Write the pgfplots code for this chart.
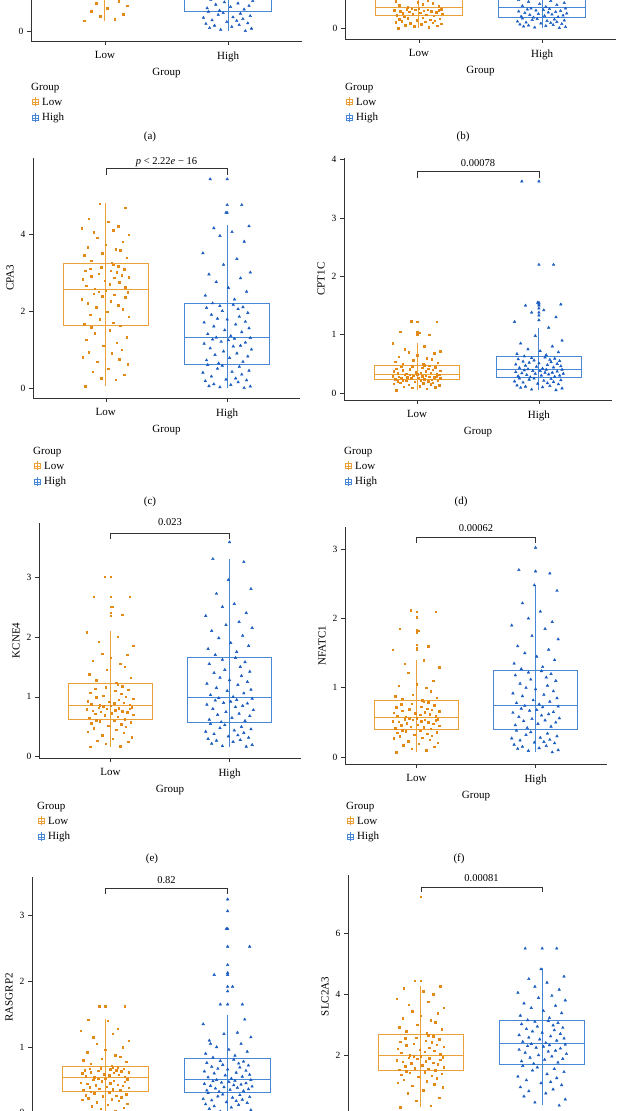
\documentclass[border=0pt]{standalone}
\usepackage{fontspec}
\setmainfont{Liberation Serif}
\usepackage{pgfplots}
\usepackage{pgfplotstable}
\usepgfplotslibrary{statistics}
\pgfplotsset{compat=1.18}

\definecolor{lowc}{RGB}{226,137,24}
\definecolor{highc}{RGB}{25,92,192}
\definecolor{boxlowc}{RGB}{236,160,56}
\definecolor{boxhighc}{RGB}{72,134,214}

\newcommand{\tf}{\fontsize{11}{13}\selectfont}
\newcommand{\nf}{\fontsize{9.5}{11}\selectfont}
\newcommand{\pf}{\fontsize{10.5}{12}\selectfont}

\pgfplotsset{
  /pgf/number format/assume math mode=true,
  bp/.style={
    scale only axis, anchor=south west, clip=false,
    axis x line*=bottom, axis y line*=left,
    axis line style={draw=black!80, line width=0.7pt, -},
    xmin=0.4, xmax=2.6, xtick={1,2}, xticklabels={Low,High},
    tick align=outside, major tick length=4pt,
    tick style={draw=black!80, line width=0.6pt},
    xticklabel style={font=\tf, yshift=-3pt},
    yticklabel style={font=\nf},
    xlabel={Group},
    label style={font=\tf},
    boxplot/draw direction=y, boxplot/box extend=0.7, boxplot/whisker extend=0,
  },
  lowbox/.style={draw=boxlowc, line width=1pt, solid},
  highbox/.style={draw=boxhighc, line width=1pt, solid},
  lowpts/.style={only marks, mark=square*, mark size=0.75pt, color=lowc},
  highpts/.style={only marks, mark=triangle*, mark size=1.5pt, color=highc},
}

% jittered points: x positions (xl, xh) and one value column per panel and group
\pgfplotstableread{
xl xh al ah bl bh cl ch dl dh el eh fl fh gl gh hl hh
0.83 2.14 0.17 0.00 0.00 0.00 0.05 0.00 0.05 0.05 0.17 0.17 0.07 0.07 0.00 0.00 0.30 0.35
1.08 1.94 0.20 0.02 0.02 0.01 0.22 0.02 0.07 0.06 0.18 0.18 0.10 0.09 0.03 0.02 0.35 0.45
0.96 2.19 0.25 0.04 0.04 0.02 0.25 0.04 0.09 0.08 0.22 0.20 0.12 0.10 0.06 0.04 0.50 0.55
1.15 1.85 0.28 0.05 0.05 0.03 0.35 0.05 0.10 0.09 0.25 0.22 0.15 0.12 0.08 0.06 0.60 0.65
0.89 2.03 0.33 0.07 0.06 0.04 0.42 0.08 0.11 0.10 0.27 0.25 0.17 0.13 0.10 0.08 0.75 0.75
1.02 1.89 0.38 0.09 0.08 0.05 0.50 0.10 0.12 0.11 0.30 0.27 0.19 0.15 0.12 0.10 0.85 0.82
1.18 2.09 0.42 0.10 0.09 0.06 0.62 0.15 0.13 0.12 0.33 0.28 0.21 0.16 0.14 0.12 0.95 0.88
0.93 1.82 0.46 0.12 0.10 0.07 0.68 0.18 0.14 0.13 0.36 0.30 0.23 0.18 0.16 0.13 1.00 0.95
1.11 2.16 0.50 0.13 0.11 0.08 0.75 0.20 0.15 0.15 0.40 0.32 0.25 0.20 0.18 0.15 1.05 1.02
0.81 1.99 0.55 0.15 0.12 0.09 0.80 0.22 0.16 0.16 0.42 0.34 0.27 0.21 0.20 0.16 1.10 1.08
1.05 2.07 0.60 0.17 0.13 0.10 0.90 0.25 0.17 0.17 0.45 0.36 0.28 0.22 0.21 0.18 1.15 1.12
0.86 1.87 0.64 0.18 0.14 0.11 0.93 0.30 0.18 0.18 0.48 0.38 0.30 0.24 0.22 0.19 1.20 1.18
1.13 2.12 0.68 0.20 0.15 0.12 1.00 0.35 0.18 0.19 0.50 0.40 0.31 0.25 0.24 0.20 1.25 1.25
0.98 1.80 0.72 0.22 0.16 0.13 1.10 0.40 0.19 0.20 0.52 0.42 0.32 0.27 0.25 0.21 1.30 1.30
1.09 2.04 0.75 0.23 0.17 0.14 1.18 0.42 0.20 0.21 0.54 0.44 0.34 0.28 0.26 0.23 1.33 1.38
0.84 2.18 0.78 0.25 0.18 0.15 1.25 0.45 0.20 0.22 0.56 0.46 0.35 0.30 0.27 0.24 1.36 1.45
1.17 1.92 0.82 0.27 0.19 0.16 1.32 0.50 0.21 0.23 0.58 0.48 0.36 0.32 0.28 0.25 1.40 1.50
0.91 2.10 0.84 0.29 0.20 0.17 1.42 0.55 0.21 0.24 0.59 0.50 0.37 0.34 0.30 0.27 1.42 1.55
1.03 1.96 0.86 0.30 0.21 0.18 1.50 0.58 0.22 0.25 0.60 0.53 0.38 0.36 0.31 0.28 1.45 1.60
0.88 1.84 0.88 0.32 0.23 0.19 1.58 0.60 0.22 0.25 0.61 0.55 0.39 0.38 0.32 0.30 1.47 1.65
1.12 1.93 0.92 0.34 0.25 0.21 1.62 0.64 0.23 0.27 0.63 0.58 0.41 0.42 0.34 0.32 1.50 1.72
0.82 2.13 0.95 0.36 0.26 0.22 1.65 0.68 0.24 0.28 0.65 0.60 0.42 0.44 0.35 0.33 1.53 1.76
1.06 1.83 0.98 0.38 0.27 0.23 1.70 0.72 0.24 0.29 0.67 0.62 0.43 0.46 0.36 0.34 1.56 1.80
0.95 2.02 1.02 0.40 0.28 0.24 1.78 0.78 0.25 0.30 0.69 0.65 0.44 0.48 0.37 0.35 1.58 1.85
1.19 2.17 1.05 0.42 0.29 0.25 1.85 0.82 0.25 0.30 0.70 0.68 0.45 0.50 0.38 0.36 1.61 1.88
0.87 1.90 1.08 0.44 0.30 0.26 1.90 0.86 0.26 0.31 0.72 0.70 0.46 0.52 0.39 0.37 1.64 1.92
1.01 2.08 1.12 0.46 0.31 0.27 1.98 0.90 0.26 0.32 0.73 0.72 0.47 0.53 0.40 0.38 1.67 1.96
1.14 1.97 1.15 0.48 0.32 0.28 2.05 0.95 0.27 0.33 0.74 0.75 0.48 0.55 0.41 0.39 1.70 2.00
0.92 2.20 1.18 0.50 0.33 0.29 2.10 1.00 0.27 0.33 0.75 0.78 0.49 0.56 0.42 0.40 1.73 2.04
1.10 1.86 1.20 0.52 0.34 0.30 2.15 1.03 0.28 0.34 0.76 0.80 0.50 0.58 0.43 0.41 1.76 2.08
0.85 2.05 1.23 0.54 0.34 0.31 2.20 1.08 0.28 0.35 0.77 0.83 0.51 0.60 0.44 0.42 1.79 2.12
1.04 2.11 1.25 0.56 0.35 0.32 2.25 1.10 0.29 0.35 0.78 0.85 0.52 0.62 0.45 0.43 1.81 2.15
0.80 1.81 1.28 0.58 0.36 0.33 2.30 1.15 0.29 0.36 0.79 0.87 0.52 0.64 0.46 0.44 1.84 2.18
1.16 2.15 1.30 0.60 0.36 0.34 2.35 1.18 0.29 0.37 0.80 0.89 0.53 0.65 0.47 0.45 1.86 2.22
0.97 1.95 1.32 0.62 0.37 0.35 2.38 1.20 0.30 0.38 0.80 0.90 0.54 0.67 0.48 0.46 1.88 2.25
1.07 2.01 1.34 0.64 0.37 0.36 2.42 1.24 0.30 0.38 0.81 0.92 0.54 0.68 0.49 0.47 1.90 2.28
0.90 1.88 1.35 0.66 0.38 0.37 2.45 1.26 0.31 0.39 0.82 0.94 0.55 0.70 0.50 0.48 1.92 2.30
1.18 2.06 1.36 0.67 0.38 0.38 2.48 1.28 0.31 0.40 0.83 0.95 0.55 0.72 0.51 0.49 1.94 2.33
0.94 2.19 1.38 0.68 0.39 0.39 2.50 1.30 0.31 0.40 0.84 0.97 0.56 0.73 0.52 0.50 1.96 2.35
1.00 1.91 1.39 0.69 0.39 0.39 2.53 1.31 0.32 0.41 0.85 0.98 0.56 0.74 0.52 0.50 1.97 2.37
0.91 2.03 1.42 0.72 0.42 0.42 2.58 1.35 0.33 0.42 0.86 1.00 0.58 0.76 0.54 0.52 2.00 2.40
1.16 1.84 1.45 0.75 0.44 0.44 2.62 1.40 0.33 0.43 0.87 1.03 0.59 0.78 0.55 0.54 2.04 2.44
0.84 2.12 1.48 0.78 0.46 0.46 2.66 1.45 0.34 0.44 0.88 1.06 0.60 0.80 0.56 0.55 2.08 2.48
1.03 1.98 1.52 0.80 0.48 0.48 2.70 1.50 0.35 0.45 0.89 1.10 0.61 0.82 0.57 0.57 2.12 2.52
1.11 2.18 1.55 0.83 0.50 0.50 2.74 1.55 0.35 0.46 0.90 1.12 0.62 0.85 0.58 0.58 2.15 2.55
0.99 1.89 1.58 0.86 0.52 0.52 2.78 1.60 0.36 0.47 0.92 1.15 0.63 0.88 0.59 0.60 2.18 2.58
0.81 2.07 1.62 0.89 0.54 0.54 2.82 1.65 0.37 0.48 0.93 1.20 0.64 0.90 0.60 0.61 2.22 2.62
1.07 1.81 1.65 0.92 0.56 0.56 2.86 1.70 0.37 0.49 0.95 1.22 0.65 0.92 0.61 0.63 2.25 2.66
1.19 2.15 1.68 0.95 0.58 0.58 2.88 1.72 0.38 0.50 0.97 1.25 0.66 0.95 0.62 0.64 2.28 2.70
0.88 2.00 1.72 0.98 0.60 0.60 2.90 1.78 0.39 0.51 0.99 1.28 0.67 0.98 0.62 0.66 2.32 2.74
1.13 1.92 1.75 1.00 0.62 0.62 2.93 1.80 0.40 0.52 1.00 1.32 0.68 1.00 0.63 0.67 2.35 2.78
0.94 2.10 1.78 1.03 0.64 0.64 2.96 1.85 0.41 0.53 1.02 1.35 0.69 1.03 0.64 0.69 2.38 2.82
1.09 1.87 1.82 1.06 0.66 0.66 3.00 1.90 0.42 0.54 1.05 1.40 0.70 1.06 0.65 0.70 2.42 2.86
0.83 2.17 1.85 1.08 0.68 0.68 3.04 1.95 0.42 0.55 1.07 1.42 0.72 1.10 0.65 0.72 2.45 2.90
1.04 1.96 1.88 1.10 0.70 0.70 3.05 2.00 0.43 0.56 1.10 1.45 0.73 1.12 0.66 0.73 2.48 2.94
1.15 2.09 1.90 1.12 0.72 0.72 3.08 2.05 0.44 0.57 1.12 1.50 0.75 1.15 0.67 0.75 2.52 2.98
0.87 1.83 1.92 1.14 0.74 0.74 3.10 2.08 0.45 0.58 1.14 1.55 0.76 1.18 0.67 0.76 2.55 3.02
0.96 2.13 1.95 1.16 0.76 0.76 3.13 2.10 0.46 0.59 1.16 1.58 0.77 1.20 0.68 0.78 2.58 3.06
1.10 1.94 1.97 1.18 0.78 0.78 3.16 2.13 0.47 0.60 1.18 1.62 0.79 1.22 0.69 0.79 2.62 3.10
1.06 2.05 1.99 1.19 0.79 0.79 3.20 2.16 0.48 0.61 1.20 1.65 0.80 1.24 0.69 0.81 2.66 3.12
1.05 1.88 2.05 1.22 0.82 0.82 3.25 2.20 0.49 0.63 1.24 1.70 0.82 1.27 0.72 0.84 2.72 3.15
0.88 2.06 2.10 1.28 0.85 0.85 3.30 2.30 0.50 0.65 1.28 1.75 0.84 1.30 0.75 0.87 2.78 3.22
1.17 1.82 2.15 1.35 0.88 0.88 3.38 2.40 0.52 0.67 1.32 1.80 0.86 1.35 0.78 0.90 2.85 3.30
0.82 2.16 2.20 1.42 0.92 0.92 3.45 2.50 0.54 0.70 1.38 1.85 0.88 1.40 0.80 0.93 2.92 3.38
0.97 2.01 2.28 1.50 0.95 0.95 3.50 2.60 0.56 0.72 1.45 1.90 0.90 1.45 0.82 0.96 3.00 3.45
1.12 1.91 2.35 1.58 1.00 1.00 3.58 2.75 0.58 0.75 1.50 1.98 0.95 1.50 0.85 1.00 3.08 3.55
1.08 2.11 2.42 1.65 1.04 1.04 3.60 2.85 0.60 0.80 1.55 2.02 1.00 1.55 0.88 1.05 3.15 3.62
0.85 1.85 2.50 1.72 1.08 1.08 3.65 2.95 0.62 0.85 1.60 2.10 1.03 1.60 0.92 1.10 3.22 3.70
1.00 2.19 2.58 1.80 1.12 1.12 3.72 3.00 0.65 0.90 1.65 2.15 1.05 1.70 0.96 1.15 3.30 3.80
1.14 1.97 2.65 1.88 1.16 1.16 3.80 3.20 0.68 0.98 1.70 2.20 1.10 1.75 1.00 1.20 3.38 3.88
0.93 2.08 2.72 1.95 1.20 1.20 3.90 3.35 0.70 1.12 1.72 2.25 1.22 1.85 1.05 1.22 3.45 3.95
1.19 1.80 2.80 2.02 1.25 1.25 3.98 3.50 0.72 1.22 1.85 2.35 1.30 1.90 1.10 1.35 3.55 4.05
0.90 2.14 2.88 2.10 1.30 1.30 4.05 3.80 0.75 1.30 1.92 2.40 1.35 1.95 1.15 1.42 3.65 4.15
1.06 1.94 2.95 2.18 1.35 1.35 4.10 3.95 0.80 1.38 2.00 2.50 1.40 2.00 1.20 1.65 3.75 4.25
0.80 2.04 3.02 2.25 1.40 1.40 4.15 4.05 0.85 1.42 2.08 2.55 1.55 2.10 1.25 1.92 3.85 4.38
1.10 1.89 3.10 2.32 1.45 1.45 4.20 4.15 1.00 1.50 2.37 2.72 1.60 2.22 1.28 2.10 4.00 4.50
1.02 2.18 3.18 2.40 1.50 1.50 4.32 4.20 1.03 1.52 2.50 2.80 1.82 2.40 1.40 2.53 4.10 4.58
0.86 1.99 3.25 2.48 1.55 1.55 4.40 4.55 1.05 1.55 2.67 2.95 1.85 2.48 1.42 2.80 4.20 4.82
1.16 2.12 3.32 2.55 1.58 1.58 4.68 4.75 1.22 2.20 2.67 3.25 2.10 2.65 1.62 1.65 4.27 5.50
0.95 1.86 3.40 2.60 1.60 1.60 4.78 5.42 1.23 3.63 3.00 3.30 2.12 2.70 1.62 1.05 4.45 5.50
}\pts

% legend block: title, two keys
\newcommand{\grp}[2]{%
\begin{scope}[shift={(#1pt,#2pt)}]
\node[anchor=west,inner sep=0pt,font=\tf] at (0pt,0pt) {Group};
\foreach \c/\t/\d in {boxlowc/Low/-14, boxhighc/High/-30}{
  \draw[\c,line width=0.6pt] (1pt,\d pt-2.5pt) rectangle (7pt,\d pt+2.5pt);
  \draw[\c,line width=0.6pt] (1pt,\d pt) -- (7pt,\d pt) (4pt,\d pt-4.5pt) -- (4pt,\d pt+4.5pt);
  \node[anchor=west,inner sep=0pt,font=\tf] at (11pt,\d pt) {\t};
}
\end{scope}}

\begin{document}
\begin{tikzpicture}
\fill[white] (0pt,0pt) rectangle (617pt,1111pt);

% (a) only its lower edge is in view
\begin{axis}[bp, at={(31pt,1070pt)}, width=271pt, height=240pt,
  ymin=-0.1667, ymax=3.833, ytick={0}]
\addplot[lowbox, boxplot prepared={draw position=1, lower whisker=0.17, lower quartile=0.90, median=1.40, upper quartile=2.00, upper whisker=3.40}] coordinates {};
\addplot[highbox, boxplot prepared={draw position=2, lower whisker=0.00, lower quartile=0.33, median=0.70, upper quartile=1.20, upper whisker=2.60}] coordinates {};
\addplot[boxlowc, line width=0.9pt] coordinates {(1,0.17) (1,3.40)};
\addplot[boxhighc, line width=0.9pt] coordinates {(2,0.00) (2,2.60)};
\addplot[lowpts] table[x=xl, y=al] {\pts};
\addplot[highpts] table[x=xh, y=ah] {\pts};
\end{axis}

% (b) only its lower edge is in view
\begin{axis}[bp, at={(345pt,1072pt)}, width=271pt, height=240pt,
  ymin=-0.22, ymax=4.58, ytick={0}]
\addplot[lowbox, boxplot prepared={draw position=1, lower whisker=0.00, lower quartile=0.24, median=0.40, upper quartile=0.80, upper whisker=1.60}] coordinates {};
\addplot[highbox, boxplot prepared={draw position=2, lower whisker=0.00, lower quartile=0.20, median=0.40, upper quartile=0.80, upper whisker=1.60}] coordinates {};
\addplot[boxlowc, line width=0.9pt] coordinates {(1,0.00) (1,1.60)};
\addplot[boxhighc, line width=0.9pt] coordinates {(2,0.00) (2,1.60)};
\addplot[lowpts] table[x=xl, y=bl] {\pts};
\addplot[highpts] table[x=xh, y=bh] {\pts};
\end{axis}

% (c) CPA3
\begin{axis}[bp, at={(33pt,713pt)}, width=267pt, height=240pt,
  ymin=-0.26, ymax=5.97, ytick={0,2,4}, ylabel={CPA3}]
\addplot[lowbox, boxplot prepared={draw position=1, lower whisker=0.05, lower quartile=1.62, median=2.56, upper quartile=3.22, upper whisker=4.80}] coordinates {};
\addplot[highbox, boxplot prepared={draw position=2, lower whisker=0.00, lower quartile=0.62, median=1.32, upper quartile=2.18, upper whisker=4.22}] coordinates {};
\addplot[boxlowc, line width=0.9pt] coordinates {(1,0.05) (1,4.80)};
\addplot[boxhighc, line width=0.9pt] coordinates {(2,0.00) (2,4.22)};
\addplot[lowpts] table[x=xl, y=cl] {\pts};
\addplot[highpts] table[x=xh, y=ch] {\pts};
\addplot[highpts] coordinates {(2,4.55) (2,4.75) (2,5.42)};
\draw[black!80, line width=0.6pt] (axis cs:1,5.53) |- (axis cs:2,5.69) -- (axis cs:2,5.53);
\node[font=\pf] at (axis cs:1.5,5.87) {\textit{p} < 2.22\textit{e} − 16};
\end{axis}

% (d) CPT1C
\begin{axis}[bp, at={(344pt,711pt)}, width=268pt, height=242pt,
  ymin=-0.12, ymax=4.03, ytick={0,1,2,3,4}, ylabel={CPT1C}]
\addplot[lowbox, boxplot prepared={draw position=1, lower whisker=0.05, lower quartile=0.23, median=0.32, upper quartile=0.48, upper whisker=0.85}] coordinates {};
\addplot[highbox, boxplot prepared={draw position=2, lower whisker=0.05, lower quartile=0.26, median=0.41, upper quartile=0.62, upper whisker=1.12}] coordinates {};
\addplot[boxlowc, line width=0.9pt] coordinates {(1,0.05) (1,0.85)};
\addplot[boxhighc, line width=0.9pt] coordinates {(2,0.05) (2,1.12)};
\addplot[lowpts] table[x=xl, y=dl] {\pts};
\addplot[highpts] table[x=xh, y=dh] {\pts};
\addplot[lowpts] coordinates {(1,1.00) (1,1.03) (1,1.05) (1,1.22)};
\addplot[highpts] coordinates {(2,1.25) (2,1.33) (2,1.38) (2,1.45) (2,1.50) (2,1.52) (2,1.55) (2,2.20) (2,3.63)};
\draw[black!80, line width=0.6pt] (axis cs:1,3.69) |- (axis cs:2,3.81) -- (axis cs:2,3.69);
\node[font=\pf] at (axis cs:1.5,3.95) {0.00078};
\end{axis}

% (e) KCNE4
\begin{axis}[bp, at={(39pt,353pt)}, width=262pt, height=235pt,
  ymin=-0.02, ymax=3.9, ytick={0,1,2,3}, ylabel={KCNE4}]
\addplot[lowbox, boxplot prepared={draw position=1, lower whisker=0.17, lower quartile=0.62, median=0.85, upper quartile=1.22, upper whisker=2.10}] coordinates {};
\addplot[highbox, boxplot prepared={draw position=2, lower whisker=0.17, lower quartile=0.57, median=0.99, upper quartile=1.66, upper whisker=3.30}] coordinates {};
\addplot[boxlowc, line width=0.9pt] coordinates {(1,0.17) (1,2.10)};
\addplot[boxhighc, line width=0.9pt] coordinates {(2,0.17) (2,3.30)};
\addplot[lowpts] table[x=xl, y=el] {\pts};
\addplot[highpts] table[x=xh, y=eh] {\pts};
\addplot[lowpts] coordinates {(1,2.35) (1,2.40) (1,2.50) (1,2.67) (1,3.00)};
\addplot[highpts] coordinates {(2,3.58)};
\draw[black!80, line width=0.6pt] (axis cs:1,3.63) |- (axis cs:2,3.73) -- (axis cs:2,3.63);
\node[font=\pf] at (axis cs:1.5,3.92) {0.023};
\end{axis}

% (f) NFATC1
\begin{axis}[bp, at={(345pt,347pt)}, width=262pt, height=237pt,
  ymin=-0.1, ymax=3.32, ytick={0,1,2,3}, ylabel={NFATC1}]
\addplot[lowbox, boxplot prepared={draw position=1, lower whisker=0.07, lower quartile=0.40, median=0.57, upper quartile=0.81, upper whisker=1.40}] coordinates {};
\addplot[highbox, boxplot prepared={draw position=2, lower whisker=0.07, lower quartile=0.40, median=0.75, upper quartile=1.25, upper whisker=2.48}] coordinates {};
\addplot[boxlowc, line width=0.9pt] coordinates {(1,0.07) (1,1.40)};
\addplot[boxhighc, line width=0.9pt] coordinates {(2,0.07) (2,2.48)};
\addplot[lowpts] table[x=xl, y=fl] {\pts};
\addplot[highpts] table[x=xh, y=fh] {\pts};
\addplot[lowpts] coordinates {(1,1.55) (1,1.58) (1,1.62) (1,1.80) (1,1.83) (1,2.02) (1,2.10)};
\addplot[highpts] coordinates {(2,2.68) (2,3.02)};
\draw[black!80, line width=0.6pt] (axis cs:1,3.09) |- (axis cs:2,3.17) -- (axis cs:2,3.09);
\node[font=\pf] at (axis cs:1.5,3.30) {0.00062};
\end{axis}

% (g) RASGRP2, cut at the bottom
\begin{axis}[bp, at={(32pt,-7pt)}, width=269pt, height=241pt,
  ymin=-0.08, ymax=3.59, ytick={0,1,2,3}, ylabel={RASGRP2},
  xticklabels={,}, xlabel={}]
\addplot[lowbox, boxplot prepared={draw position=1, lower whisker=0.00, lower quartile=0.33, median=0.53, upper quartile=0.70, upper whisker=1.42}] coordinates {};
\addplot[highbox, boxplot prepared={draw position=2, lower whisker=0.00, lower quartile=0.31, median=0.51, upper quartile=0.82, upper whisker=1.49}] coordinates {};
\addplot[boxlowc, line width=0.9pt] coordinates {(1,0.00) (1,1.42)};
\addplot[boxhighc, line width=0.9pt] coordinates {(2,0.00) (2,1.49)};
\addplot[lowpts] table[x=xl, y=gl] {\pts};
\addplot[highpts] table[x=xh, y=gh] {\pts};
\addplot[lowpts] coordinates {(1,1.62)};
\addplot[highpts] coordinates {(2,1.65) (2,1.85) (2,1.92) (2,2.10) (2,2.13) (2,2.25) (2,2.53) (2,2.80) (2,3.07) (2,3.25)};
\draw[black!80, line width=0.6pt] (axis cs:1,3.33) |- (axis cs:2,3.42) -- (axis cs:2,3.33);
\node[font=\pf] at (axis cs:1.5,3.55) {0.82};
\end{axis}

% (h) SLC2A3, cut at the bottom
\begin{axis}[bp, at={(348pt,-7pt)}, width=267pt, height=243pt,
  ymin=-0.06, ymax=7.91, ytick={2,4,6}, ylabel={SLC2A3},
  xticklabels={,}, xlabel={}]
\addplot[lowbox, boxplot prepared={draw position=1, lower whisker=0.30, lower quartile=1.49, median=1.98, upper quartile=2.68, upper whisker=4.27}] coordinates {};
\addplot[highbox, boxplot prepared={draw position=2, lower whisker=0.35, lower quartile=1.69, median=2.38, upper quartile=3.13, upper whisker=4.85}] coordinates {};
\addplot[boxlowc, line width=0.9pt] coordinates {(1,0.30) (1,4.27)};
\addplot[boxhighc, line width=0.9pt] coordinates {(2,0.35) (2,4.85)};
\addplot[lowpts] table[x=xl, y=hl] {\pts};
\addplot[highpts] table[x=xh, y=hh] {\pts};
\addplot[lowpts] coordinates {(1,4.45) (1,7.20)};
\addplot[highpts] coordinates {(2,5.50)};
\draw[black!80, line width=0.6pt] (axis cs:1,7.34) |- (axis cs:2,7.50) -- (axis cs:2,7.34);
\node[font=\pf] at (axis cs:1.5,7.80) {0.00081};
\end{axis}

% legends and panel letters
\grp{31}{1023}
\grp{345}{1023}
\grp{33}{659}
\grp{344}{659}
\grp{37}{304}
\grp{346}{304}
\node[font=\tf] at (150pt,974pt) {(a)};
\node[font=\tf] at (463pt,974pt) {(b)};
\node[font=\tf] at (150pt,609pt) {(c)};
\node[font=\tf] at (461pt,609pt) {(d)};
\node[font=\tf] at (152pt,252pt) {(e)};
\node[font=\tf] at (459pt,252pt) {(f)};

\pgfresetboundingbox
\useasboundingbox (0pt,0pt) rectangle (617pt,1111pt);
\end{tikzpicture}
\end{document}
